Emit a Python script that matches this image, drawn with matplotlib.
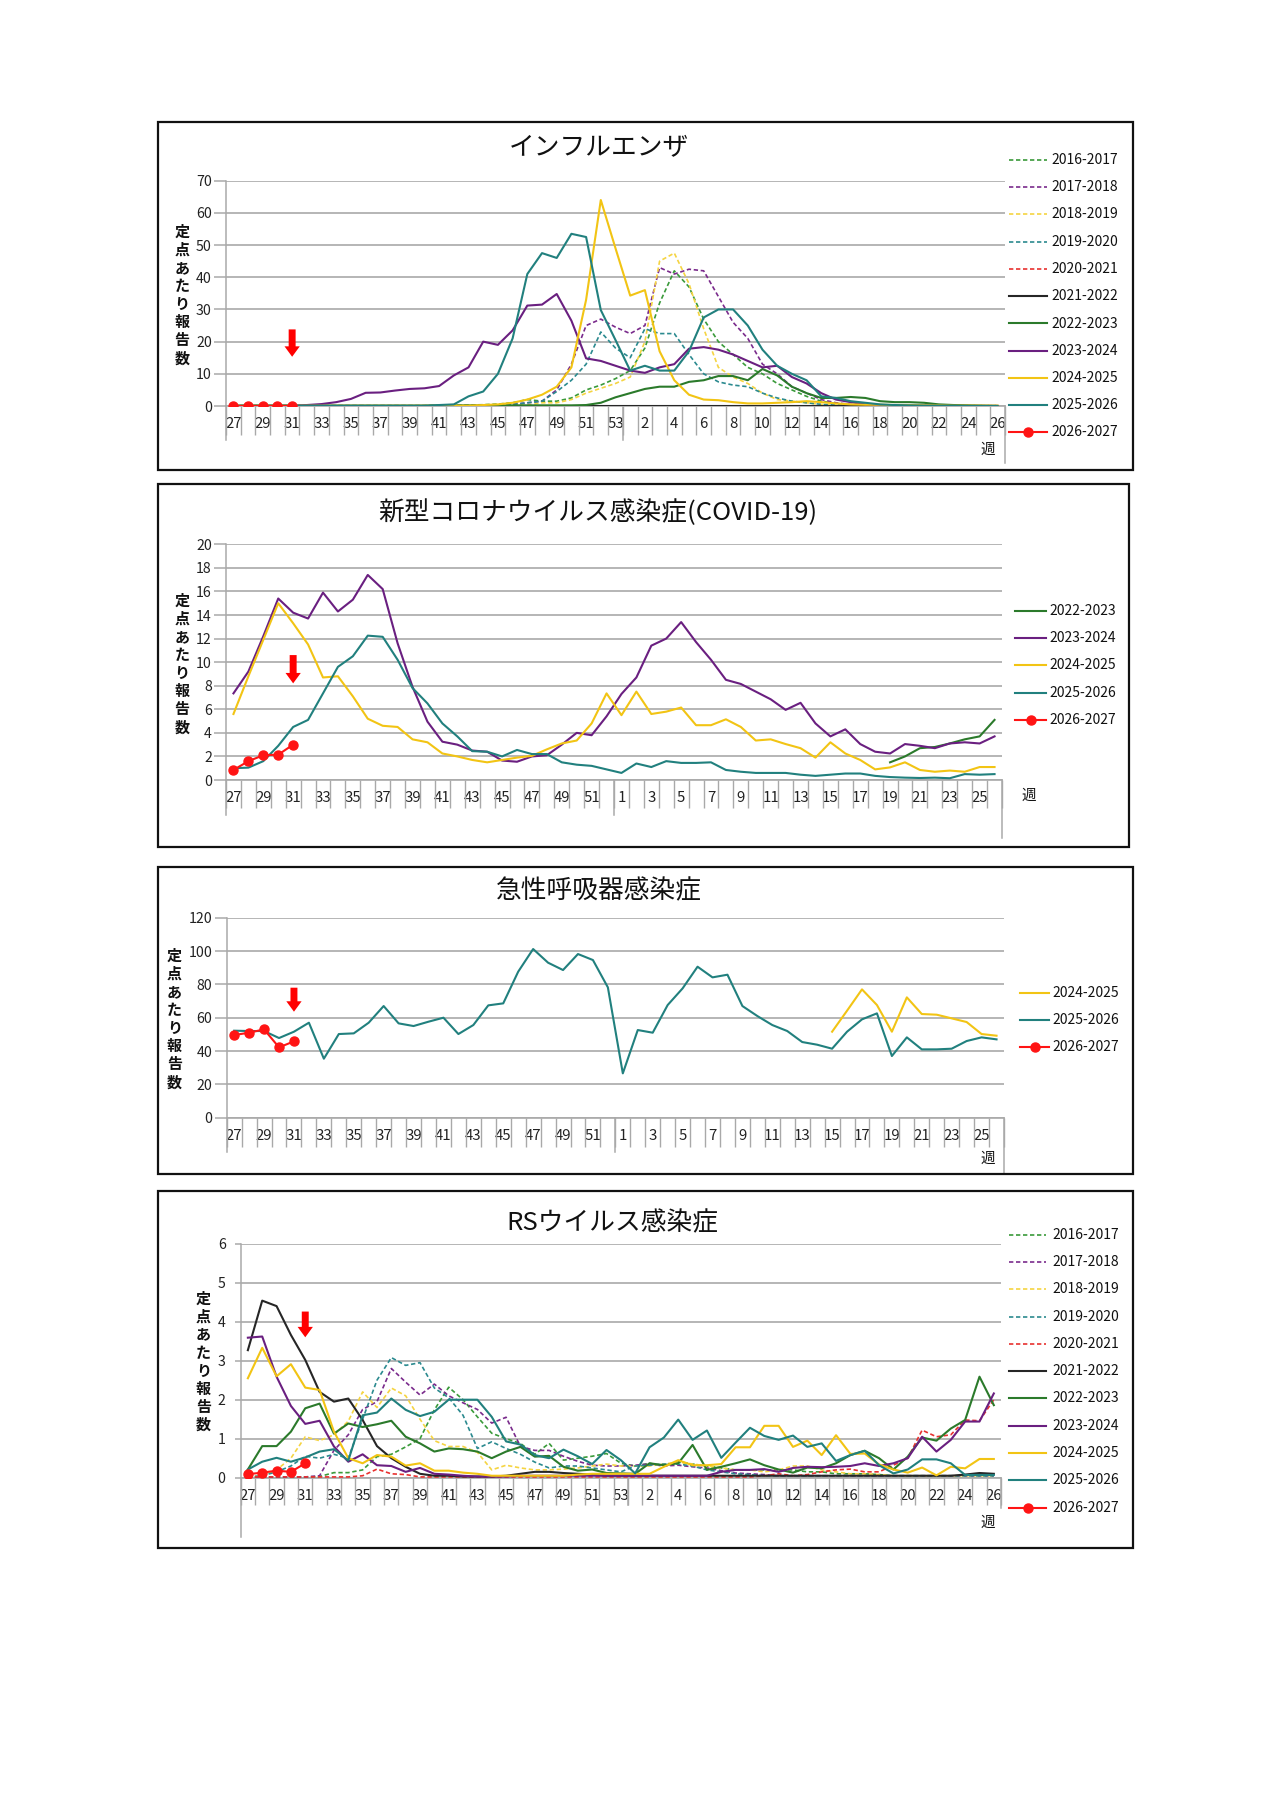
import numpy as np
import matplotlib
matplotlib.use("Agg")
import matplotlib.pyplot as plt
from matplotlib.lines import Line2D
from matplotlib.patches import Rectangle

plt.rcParams['font.family'] = ['Noto Sans CJK JP', 'DejaVu Sans']

# ---- categories ----
weeks53 = list(range(27, 54)) + list(range(1, 27))
weeks52 = list(range(27, 53)) + list(range(1, 27))

# ---- influenza (per sentinel) ----
flu_2016 = [0.1, 0.1, 0.1, 0.1, 0.1, 0.1, 0.1, 0.1, 0.1, 0.1, 0.1, 0.1, 0.1, 0.1, 0.2, 0.2, 0.3, 0.4, 0.6, 1.0,
            2.0, 1.5, 1.5, 2.5, 5.0, 6.5, 8.5, 11, 18, 32, 42, 37, 27, 20, 16, 12, 10, 7, 5, 3,
            1.5, 0.8, 0.4, 0.2, 0.1, 0.1, 0.1, 0, 0, 0, 0, 0, 0]
flu_2017 = [0.1, 0.1, 0.1, 0.1, 0.1, 0.1, 0.1, 0.1, 0.1, 0.1, 0.1, 0.1, 0.1, 0.1, 0.1, 0.1, 0.1, 0.2, 0.3, 0.5,
            1.0, 1.5, 5, 13, 25, 27, 24.5, 22.5, 25, 43, 41, 42.5, 42, 34, 26, 21, 13, 10, 6, 4,
            2, 1, 0.5, 0.3, 0.2, 0.1, 0.1, 0.1, 0.1, 0.1, 0.1, 0.1, 0.1]
flu_2018 = [0.05, 0.05, 0.05, 0.05, 0.05, 0.05, 0.05, 0.05, 0.05, 0.05, 0.05, 0.05, 0.05, 0.05, 0.05, 0.05, 0.05, 0.1, 0.1, 0.2,
            0.3, 1, 1, 2, 4, 5.5, 7, 9, 20, 45, 47.5, 38, 24, 12, 9, 7, 4, 2, 1.5, 1,
            0.5, 0.3, 0.2, 0.1, 0.1, 0.1, 0.1, 0.1, 0.1, 0.1, 0.1, 0.1, 0.1]
flu_2019 = [0.05, 0.05, 0.05, 0.05, 0.05, 0.05, 0.05, 0.05, 0.05, 0.05, 0.05, 0.05, 0.05, 0.05, 0.05, 0.05, 0.1, 0.1, 0.2, 0.5,
            1, 1.5, 4.5, 8, 13, 23, 18, 15, 24, 22.5, 22.5, 16, 10, 7.5, 6.5, 6, 4, 2.5, 1.5, 1,
            0.5, 0.3, 0.2, 0.1, 0.1, 0.1, 0.1, 0.1, 0.1, 0.1, 0.1, 0.1, 0.1]
flu_2020 = [0, 0, 0, 0, 0, 0, 0, 0, 0, 0, 0, 0, 0, 0, 0, 0, 0, 0, 0, 0,
            0, 0, 0, 0, 0, 0, 0, 0, 0, 0, 0, 0, 0, 0, 0, 0, 0, 0, 0, 0,
            0, 0, 0, 0, 0, 0, 0, 0, 0, 0, 0, 0, 0]
flu_2021 = [0, 0, 0, 0, 0, 0, 0, 0, 0, 0, 0, 0, 0, 0, 0, 0, 0, 0, 0, 0,
            0, 0, 0, 0, 0, 0, 0, 0, 0, 0, 0, 0, 0, 0, 0, 0, 0, 0, 0, 0,
            0, 0, 0, 0, 0, 0, 0, 0, 0, 0, 0, 0, 0]
flu_2022 = [0.1, 0.1, 0.1, 0.1, 0.1, 0.1, 0.1, 0.1, 0.1, 0.1, 0.1, 0.1, 0.1, 0.1, 0.2, 0.2, 0.2, 0.2, 0.2, 0.2,
            0.2, 0.2, 0.2, 0.2, 0.3, 1, 2.7, 4, 5.3, 6, 6, 7.5, 8, 9.3, 9.3, 8, 11.5, 9.5, 6, 4,
            2.5, 2.5, 2.8, 2.5, 1.5, 1.2, 1.2, 1, 0.5, 0.3, 0.2, 0.1, 0]
flu_2023 = [0, 0, 0, 0, 0.1, 0.3, 0.6, 1.2, 2.2, 4.1, 4.2, 4.8, 5.3, 5.5, 6.2, 9.5, 12, 20, 19, 23.5,
            31.2, 31.5, 34.8, 26.5, 14.8, 14, 12.5, 11, 10.3, 12, 13, 17.8, 18.3, 17.5, 16, 14, 12, 12.5, 9, 7,
            4, 2, 1.2, 0.5, 0.3, 0.2, 0.1, 0.1, 0, 0, 0, 0, 0]
flu_2024 = [0.1, 0.1, 0.1, 0.1, 0.1, 0.1, 0.1, 0.1, 0.1, 0.1, 0.1, 0.1, 0.1, 0.1, 0.1, 0.1, 0.1, 0.3, 0.5, 1,
            2, 3.5, 6, 12, 33, 64, 49, 34.3, 36, 17, 8, 3.5, 2, 1.8, 1.2, 0.8, 0.8, 1.0, 1.2, 1.5,
            1.2, 0.8, 0.5, 0.4, 0.4, 0.3, 0.3, 0.2, 0.2, 0.1, 0.1, 0.1, 0.1]
flu_2025 = [0.1, 0.1, 0.1, 0.1, 0.1, 0.1, 0.1, 0.1, 0.1, 0.1, 0.1, 0.1, 0.1, 0.1, 0.3, 0.5, 3, 4.5, 10, 21,
            41, 47.5, 46, 53.5, 52.5, 29.8, 20.5, 11, 12.5, 11, 11, 17, 27.5, 30, 30, 25, 17.5, 12.5, 10, 8,
            3, 2.5, 1.5, 1.0, 0.5, 0.3, 0.2, 0.1, 0.1, 0.1, 0, 0, 0]
flu_2026 = [0, 0, 0, 0, 0]
flu_arrow = [23.8, 15.3]

# ---- COVID-19 ----
nan = np.nan
cov_2022 = [nan] * 44 + [1.5, 2.0, 2.7, 2.8, 3.1, 3.45, 3.7, 5.1]
cov_2023 = [7.35, 9.2, 12.2, 15.4, 14.2, 13.7, 15.9, 14.3, 15.3, 17.4, 16.2, 11.6, 7.9, 4.95, 3.25, 3.0, 2.5, 2.4,
            1.65, 1.55, 2.0, 2.1, 3.0, 4.0, 3.8, 5.4, 7.3, 8.7, 11.4, 12.0, 13.4, 11.7, 10.2, 8.5, 8.15, 7.5,
            6.85, 5.95, 6.55, 4.8, 3.7, 4.3, 3.05, 2.4, 2.25, 3.05, 2.9, 2.7, 3.1, 3.2, 3.1, 3.7]
cov_2024 = [5.6, 8.8, 11.9, 15.0, 13.3, 11.5, 8.7, 8.8, 7.1, 5.2, 4.6, 4.5, 3.45, 3.2, 2.25, 2.0, 1.7, 1.5,
            1.7, 1.9, 2.05, 2.6, 3.1, 3.35, 4.8, 7.35, 5.5, 7.5, 5.6, 5.8, 6.15, 4.65, 4.65, 5.15, 4.5, 3.35,
            3.45, 3.05, 2.7, 1.9, 3.2, 2.25, 1.7, 0.9, 1.07, 1.5, 0.85, 0.7, 0.8, 0.7, 1.1, 1.1]
cov_2025 = [1.0, 1.05, 1.6, 2.9, 4.5, 5.1, 7.35, 9.6, 10.5, 12.25, 12.15, 10.2, 7.8, 6.5, 4.8, 3.7, 2.45, 2.4,
            2.0, 2.55, 2.2, 2.2, 1.5, 1.3, 1.2, 0.9, 0.6, 1.4, 1.1, 1.6, 1.45, 1.45, 1.5, 0.85, 0.7, 0.6,
            0.6, 0.6, 0.45, 0.35, 0.45, 0.55, 0.55, 0.35, 0.25, 0.2, 0.17, 0.2, 0.15, 0.5, 0.45, 0.5]
cov_2026 = [0.85, 1.6, 2.1, 2.15, 3.0]
cov_arrow = [10.6, 8.2]

# ---- acute respiratory infection ----
ari_2024 = [nan] * 40 + [51.6, 64.2, 77, 67.6, 51.6, 72.2, 62.2, 61.8, 59.6, 57.4, 50.2, 49.2]
ari_2025 = [52.2, 52, 52, 47.8, 51.6, 57, 35.4, 50.2, 50.6, 57, 67, 56.6, 55, 57.6, 60, 50.2, 55.6, 67.4,
            68.6, 87.6, 101.2, 93, 88.6, 98.2, 94.6, 78.2, 26.6, 52.6, 51, 67.6, 77.6, 90.6, 84.2, 85.8, 67, 61,
            55.6, 52, 45.4, 43.8, 41.4, 51.6, 59, 62.6, 37, 48.2, 41, 41, 41.4, 46, 48.2, 47]
ari_2026 = [49.6, 51, 53, 42.2, 45.8]
ari_arrow = [78, 63.6]

# ---- RS virus ----
rs_2016 = [0.02, 0.02, 0.02, 0.02, 0.02, 0.03, 0.13, 0.13, 0.2, 0.54, 0.6, 0.79, 1.0, 1.74, 2.32, 2.0, 1.56, 1.14,
           1.0, 0.88, 0.6, 0.88, 0.45, 0.5, 0.55, 0.62, 0.37, 0.3, 0.37, 0.3, 0.41, 0.35, 0.3, 0.25, 0.2, 0.2,
           0.2, 0.2, 0.2, 0.15, 0.15, 0.1, 0.1, 0.1, 0.08, 0.05, 0.05, 0.05, 0.05, 0.05, 0.05, 0.05, 0.05]
rs_2017 = [0.02, 0.02, 0.02, 0.02, 0.02, 0.05, 0.7, 1.1, 1.75, 1.95, 2.8, 2.45, 2.12, 2.4, 2.1, 1.92, 1.75, 1.4,
           1.55, 0.8, 0.7, 0.7, 0.55, 0.42, 0.32, 0.3, 0.3, 0.32, 0.35, 0.3, 0.32, 0.28, 0.25, 0.18, 0.12, 0.1,
           0.08, 0.05, 0.05, 0.05, 0.05, 0.05, 0.05, 0.05, 0.05, 0.05, 0.05, 0.05, 0.05, 0.05, 0.05, 0.05, 0.05]
rs_2018 = [0.02, 0.05, 0.2, 0.5, 1.05, 0.95, 1.1, 1.45, 2.2, 1.8, 2.3, 2.1, 1.5, 0.95, 0.8, 0.8, 0.65, 0.2,
           0.32, 0.25, 0.2, 0.2, 0.22, 0.25, 0.3, 0.35, 0.3, 0.3, 0.3, 0.35, 0.4, 0.35, 0.3, 0.25, 0.2, 0.2,
           0.15, 0.2, 0.3, 0.3, 0.2, 0.15, 0.1, 0.1, 0.08, 0.05, 0.05, 0.05, 0.05, 0.05, 0.05, 0.05, 0.05]
rs_2019 = [0.02, 0.05, 0.15, 0.3, 0.55, 0.5, 0.6, 0.5, 1.5, 2.5, 3.08, 2.88, 2.95, 2.3, 2.05, 1.6, 0.75, 0.92,
           0.75, 0.6, 0.4, 0.25, 0.3, 0.3, 0.25, 0.2, 0.15, 0.3, 0.32, 0.35, 0.35, 0.3, 0.2, 0.15, 0.1, 0.08,
           0.05, 0.05, 0.05, 0.05, 0.05, 0.05, 0.05, 0.05, 0.05, 0.05, 0.05, 0.05, 0.05, 0.05, 0.05, 0.05, 0.05]
rs_2020 = [0.02, 0.02, 0.02, 0.02, 0.02, 0.02, 0.02, 0.02, 0.05, 0.22, 0.1, 0.08, 0.02, 0.02, 0.02, 0.02, 0.02, 0.02,
           0.02, 0.02, 0.02, 0.02, 0.02, 0.02, 0.02, 0.02, 0.02, 0.02, 0.02, 0.02, 0.02, 0.02, 0.02, 0.02, 0.02, 0.02,
           0.05, 0.1, 0.05, 0.08, 0.15, 0.2, 0.22, 0.15, 0.15, 0.32, 0.5, 1.22, 1.05, 1.1, 1.48, 1.46, 2.0]
rs_2021 = [3.27, 4.54, 4.4, 3.66, 3.02, 2.2, 1.95, 2.03, 1.48, 0.81, 0.5, 0.28, 0.1, 0.05, 0.05, 0.03, 0.03, 0.03,
           0.05, 0.1, 0.15, 0.15, 0.12, 0.1, 0.08, 0.05, 0.05, 0.05, 0.05, 0.05, 0.05, 0.05, 0.05, 0.05, 0.05, 0.05,
           0.05, 0.05, 0.05, 0.05, 0.05, 0.05, 0.05, 0.05, 0.05, 0.05, 0.05, 0.05, 0.05, 0.05, 0.08, 0.12, 0.1]
rs_2022 = [0.21, 0.81, 0.81, 1.18, 1.78, 1.9, 1.13, 1.39, 1.3, 1.37, 1.46, 1.05, 0.88, 0.67, 0.75, 0.73, 0.67, 0.5,
           0.67, 0.79, 0.54, 0.56, 0.28, 0.18, 0.21, 0.12, 0.11, 0.1, 0.37, 0.32, 0.37, 0.84, 0.2, 0.28, 0.37, 0.47,
           0.32, 0.21, 0.13, 0.26, 0.24, 0.37, 0.58, 0.69, 0.5, 0.21, 0.54, 1.03, 0.95, 1.26, 1.48, 2.59, 1.86]
rs_2023 = [3.59, 3.62, 2.59, 1.84, 1.38, 1.46, 0.8, 0.41, 0.6, 0.32, 0.3, 0.15, 0.25, 0.1, 0.08, 0.05, 0.03, 0.03,
           0.03, 0.05, 0.05, 0.05, 0.05, 0.05, 0.05, 0.05, 0.05, 0.05, 0.05, 0.05, 0.05, 0.05, 0.05, 0.15, 0.2, 0.2,
           0.22, 0.15, 0.25, 0.28, 0.27, 0.28, 0.3, 0.37, 0.3, 0.37, 0.5, 1.05, 0.67, 0.97, 1.44, 1.44, 2.16]
rs_2024 = [2.55, 3.33, 2.6, 2.91, 2.31, 2.25, 1.18, 0.5, 0.37, 0.58, 0.54, 0.31, 0.37, 0.18, 0.18, 0.13, 0.1, 0.05,
           0.05, 0.05, 0.05, 0.05, 0.05, 0.08, 0.1, 0.1, 0.1, 0.1, 0.1, 0.28, 0.45, 0.32, 0.32, 0.35, 0.78, 0.78,
           1.33, 1.33, 0.79, 0.95, 0.58, 1.09, 0.61, 0.62, 0.34, 0.21, 0.13, 0.26, 0.06, 0.28, 0.24, 0.48, 0.48]
rs_2025 = [0.21, 0.41, 0.51, 0.41, 0.52, 0.67, 0.73, 0.44, 1.6, 1.67, 2.03, 1.74, 1.58, 1.69, 2.0, 2.0, 2.0, 1.56,
           0.93, 0.85, 0.58, 0.5, 0.72, 0.55, 0.35, 0.71, 0.45, 0.11, 0.78, 1.03, 1.49, 0.97, 1.21, 0.51, 0.9, 1.28,
           1.07, 0.97, 1.08, 0.79, 0.88, 0.43, 0.58, 0.69, 0.32, 0.11, 0.21, 0.47, 0.47, 0.37, 0.07, 0.07, 0.07]
rs_2026 = [0.09, 0.13, 0.18, 0.15, 0.37]
rs_arrow = [4.26, 3.6]

# ---- styles per season ----
colors = {
    "2016-2017": "#3a9a3a", "2017-2018": "#7a2b8c", "2018-2019": "#f5d442", "2019-2020": "#2b8a8f",
    "2020-2021": "#e8312f", "2021-2022": "#262626", "2022-2023": "#2b7a2b", "2023-2024": "#6a1f80",
    "2024-2025": "#f2c414", "2025-2026": "#21807e", "2026-2027": "#ff1414",
}
dashed = ["2016-2017", "2017-2018", "2018-2019", "2019-2020", "2020-2021"]
GRID = "#a9a9a9"

W, H = 1280, 1810
fig = plt.figure(figsize=(12.8, 18.1), dpi=100)
fig.patch.set_facecolor("white")


def fx(p):
    return p / W


def fy(p):
    return 1 - p / H


def style(name):
    if name in dashed:
        return dict(color=colors[name], lw=1.2, ls=(0, (2.6, 1.6)))
    return dict(color=colors[name], lw=1.5, ls="-")


def panel(box, area, weeks, ymax, ystep, series, cur, arrow, title, title_pos, ylab_pos, week_pos,
          leg, ytl=9.0, ypad=1.2, longs=(34, 34, 57), short=29):
    x0, y0, x1, y1 = box
    fig.add_artist(Rectangle((fx(x0), fy(y1)), fx(x1) - fx(x0), fy(y0) - fy(y1),
                             transform=fig.transFigure, fill=False, ec="#111111", lw=1.6))
    l, t, r, b = area
    ax = fig.add_axes([fx(l), fy(b), fx(r) - fx(l), fy(t) - fy(b)])
    n = len(weeks)
    x = np.arange(n)
    for name, vals in series:
        ax.plot(x, vals, **style(name), zorder=3)
    ax.plot(np.arange(len(cur)), cur, color=colors["2026-2027"], lw=1.5, marker="o", ms=6.5, zorder=5)

    # red arrow on the latest week
    xa = len(cur) - 1
    ax.annotate("", xy=(xa, arrow[1]), xytext=(xa, arrow[0]),
                arrowprops=dict(arrowstyle="simple,head_width=1.1,head_length=0.75,tail_width=0.5",
                                fc="#ff0000", ec="none", shrinkA=0, shrinkB=0, mutation_scale=10), zorder=6)

    ax.set_xlim(-0.5, n - 0.5)
    ax.set_ylim(0, ymax)
    yt = np.arange(0, ymax + ystep / 2, ystep)
    ax.set_yticks(yt)
    ax.set_yticklabels([f"{v:g}" for v in yt])
    ax.grid(axis="y", color=GRID, lw=1.2)
    ax.set_axisbelow(True)
    for s in ["top", "right"]:
        ax.spines[s].set_visible(False)
    ax.spines["left"].set_color(GRID)
    ax.spines["bottom"].set_color(GRID)
    ax.spines["left"].set_linewidth(1.1)
    ax.spines["bottom"].set_linewidth(1.2)
    ax.tick_params(axis="y", length=ytl, width=1.1, color=GRID, pad=ypad, labelsize=10.2, labelcolor="#222222")

    ax.set_xticks(x[::2])
    ax.set_xticklabels([str(w) for w in weeks[::2]])
    ax.set_xticks(np.arange(n + 1) - 0.5, minor=True)
    ax.tick_params(axis="x", which="major", length=0, pad=8, labelsize=10.8, labelcolor="#222222")
    ax.tick_params(axis="x", which="minor", length=short / 1.389, width=1.0, color=GRID)

    # longer separators: start, year change, end
    hpx = b - t
    trans = ax.get_xaxis_transform()
    split = weeks.index(1) - 0.5
    for xb, L in zip([-0.5, split, n - 0.5], longs):
        ax.plot([xb, xb], [0, -L / hpx], transform=trans, color=GRID, lw=1.1, clip_on=False)

    fig.text(fx(title_pos[0]), fy(title_pos[1]), title, ha="center", va="center", fontsize=18.5, color="#111111")
    fig.text(fx(ylab_pos[0]), fy(ylab_pos[1]), "\n".join("定点あたり報告数"), ha="center", va="center",
             fontsize=10.8, fontweight="bold", linespacing=1.16, color="#111111")
    fig.text(fx(week_pos[0]), fy(week_pos[1]), "週", ha="center", va="center", fontsize=10.5, color="#111111")

    # legend
    lx0, lx1, tx, ly0, dy = leg
    names = [nm for nm, _ in series] + ["2026-2027"]
    for k, nm in enumerate(names):
        yy = fy(ly0 + k * dy)
        if nm == "2026-2027":
            fig.add_artist(Line2D([fx(lx0), fx((lx0 + lx1) / 2), fx(lx1)], [yy, yy, yy],
                                  transform=fig.transFigure, color=colors[nm], lw=1.5,
                                  marker="o", ms=6.5, markevery=[1]))
        else:
            fig.add_artist(Line2D([fx(lx0), fx(lx1)], [yy, yy], transform=fig.transFigure, **style(nm)))
        fig.text(fx(tx), yy, nm, va="center", ha="left", fontsize=10, color="#111111")
    return ax


flu_series = [("2016-2017", flu_2016), ("2017-2018", flu_2017), ("2018-2019", flu_2018),
              ("2019-2020", flu_2019), ("2020-2021", flu_2020), ("2021-2022", flu_2021),
              ("2022-2023", flu_2022), ("2023-2024", flu_2023), ("2024-2025", flu_2024),
              ("2025-2026", flu_2025)]
panel((158, 122, 1133, 470), (226, 180.7, 1005, 406), weeks53, 70, 10, flu_series, flu_2026, flu_arrow,
      "インフルエンザ", (599, 148), (182, 295), (988, 450), (1009, 1047, 1051, 160, 27.25))

cov_series = [("2022-2023", cov_2022), ("2023-2024", cov_2023), ("2024-2025", cov_2024), ("2025-2026", cov_2025)]
panel((158, 484, 1129, 847), (226, 544.3, 1002, 780), weeks52, 20, 2, cov_series, cov_2026, cov_arrow,
      "新型コロナウイルス感染症(COVID-19)", (598, 513), (182, 664), (1029, 796),
      (1015, 1046, 1049, 611, 27.2), longs=(35, 35, 58), short=28)

ari_series = [("2024-2025", ari_2024), ("2025-2026", ari_2025)]
panel((158, 867, 1133, 1174), (226.7, 917.7, 1004, 1117.7), weeks52, 120, 20, ari_series, ari_2026, ari_arrow,
      "急性呼吸器感染症", (599, 891), (174.3, 1019), (988, 1159),
      (1020, 1049, 1052, 993, 27.2), longs=(34, 34, 55), short=29)

rs_series = [("2016-2017", rs_2016), ("2017-2018", rs_2017), ("2018-2019", rs_2018),
             ("2019-2020", rs_2019), ("2020-2021", rs_2020), ("2021-2022", rs_2021),
             ("2022-2023", rs_2022), ("2023-2024", rs_2023), ("2024-2025", rs_2024),
             ("2025-2026", rs_2025)]
panel((158, 1191, 1133, 1548), (240.7, 1243.7, 1001, 1477.7), weeks53, 6, 1, rs_series, rs_2026, rs_arrow,
      "RSウイルス感染症", (612.7, 1223), (203.3, 1361.7), (988, 1523),
      (1009, 1046, 1052, 1234.6, 27.3), ytl=4.3, ypad=6.5, longs=(59, 27, 30), short=27)

fig.savefig("out.png", dpi=100, facecolor="white")
